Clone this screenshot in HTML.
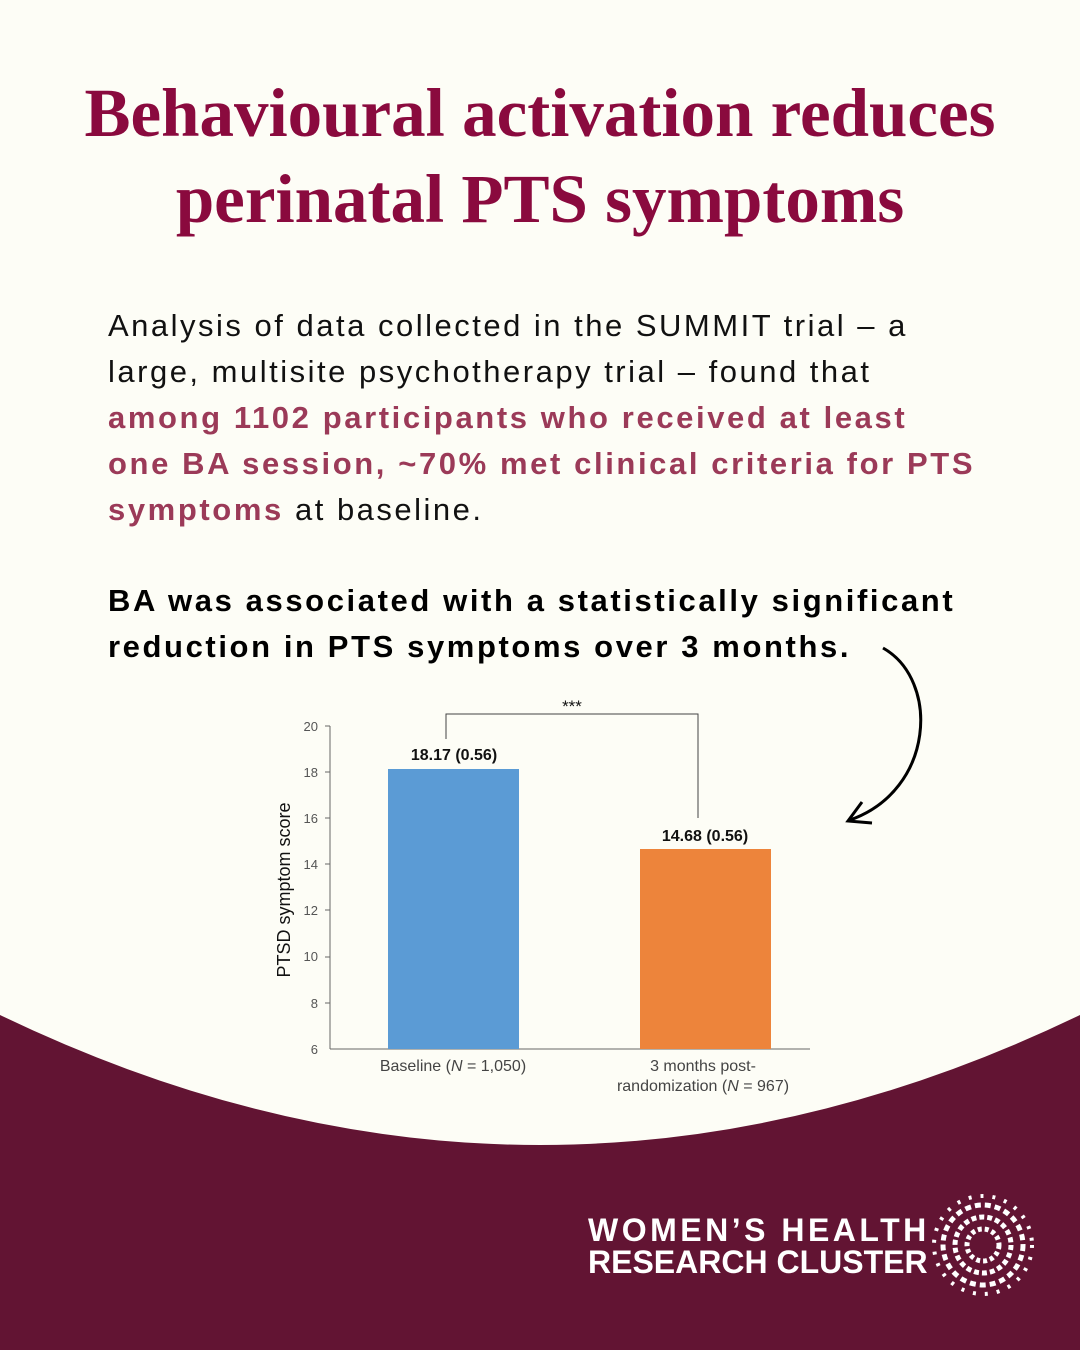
<!DOCTYPE html>
<html><head><meta charset="utf-8"><style>
body{margin:0;width:1080px;height:1350px;background:#fdfdf6;position:relative;overflow:hidden;font-family:"Liberation Sans",sans-serif}
.t{position:absolute;left:0;width:1080px;text-align:center;font-family:"Liberation Serif",serif;font-weight:bold;color:#8a0a3e;font-size:69px;letter-spacing:0px;line-height:86px;top:70px}
.p{position:absolute;left:108px;font-size:31px;line-height:46px;color:#111;white-space:nowrap;letter-spacing:2.5px}
.h{color:#9b3a58;font-weight:bold}
</style></head><body>
<div class="t">Behavioural activation reduces<br>perinatal PTS symptoms</div>
<div class="p" style="top:303px">Analysis of data collected in the SUMMIT trial – a<br>large, multisite psychotherapy trial – found that<br><span class="h" style="letter-spacing:2.6px">among 1102 participants who received at least<br>one BA session, ~70% met clinical criteria for PTS<br>symptoms</span> at baseline.</div>
<div class="p" style="top:578px;font-weight:bold;color:#000;letter-spacing:2.6px">BA was associated with a statistically significant<br>reduction in PTS symptoms over 3 months.</div>
<svg width="1080" height="1350" style="position:absolute;left:0;top:0">
<path d="M0 1015 Q540 1275 1080 1015 L1080 1350 L0 1350Z" fill="#621433"/>
<path d="M883 648 C940 680 935 790 850 820" fill="none" stroke="#000" stroke-width="3"/>
<path d="M862 802 L848 821 L872 823" fill="none" stroke="#000" stroke-width="3"/>
<g font-family="Liberation Sans" fill="#333">
<line x1="330" y1="726" x2="330" y2="1049" stroke="#666"/>
<line x1="330" y1="1049" x2="810" y2="1049" stroke="#666"/>
<g font-size="13" text-anchor="end" fill="#555">
<text x="318" y="731">20</text><text x="318" y="777">18</text><text x="318" y="823">16</text><text x="318" y="869">14</text><text x="318" y="915">12</text><text x="318" y="961">10</text><text x="318" y="1008">8</text><text x="318" y="1054">6</text>
</g>
<g stroke="#666"><line x1="325" y1="726" x2="330" y2="726"/><line x1="325" y1="772" x2="330" y2="772"/><line x1="325" y1="818" x2="330" y2="818"/><line x1="325" y1="864" x2="330" y2="864"/><line x1="325" y1="910" x2="330" y2="910"/><line x1="325" y1="957" x2="330" y2="957"/><line x1="325" y1="1003" x2="330" y2="1003"/></g>
<rect x="388" y="769" width="131" height="280" fill="#5b9bd5"/>
<rect x="640" y="849" width="131" height="200" fill="#ed843b"/>
<path d="M446 739 V714 H698 V818" fill="none" stroke="#444"/>
<text x="572" y="712" font-size="17" text-anchor="middle" fill="#111">***</text>
<text x="454" y="760" font-size="16" font-weight="bold" text-anchor="middle" fill="#111">18.17 (0.56)</text>
<text x="705" y="841" font-size="16" font-weight="bold" text-anchor="middle" fill="#111">14.68 (0.56)</text>
<text x="453" y="1071" font-size="16" text-anchor="middle" fill="#444">Baseline (<tspan font-style="italic">N</tspan> = 1,050)</text>
<text x="703" y="1071" font-size="16" text-anchor="middle" fill="#444">3 months post-</text>
<text x="703" y="1091" font-size="16" text-anchor="middle" fill="#444">randomization (<tspan font-style="italic">N</tspan> = 967)</text>
<text transform="translate(290 890) rotate(-90)" font-size="18" text-anchor="middle" fill="#111">PTSD symptom score</text>
</g>
<g fill="#fff" font-family="Liberation Sans" font-weight="bold" font-size="32">
<text x="588" y="1241" letter-spacing="3.5">WOMEN’S HEALTH</text>
<text x="588" y="1273">RESEARCH CLUSTER</text>
</g>
<g fill="none" stroke="#fff" stroke-width="5">
<circle cx="983" cy="1245" r="40" stroke-dasharray="6 4"/>
<circle cx="983" cy="1245" r="28" stroke-dasharray="5 3"/>
<circle cx="983" cy="1245" r="16" stroke-dasharray="4 3"/>
<circle cx="983" cy="1245" r="49" stroke-width="4" stroke-dasharray="3 9"/>
</g>
</svg>
</body></html>
